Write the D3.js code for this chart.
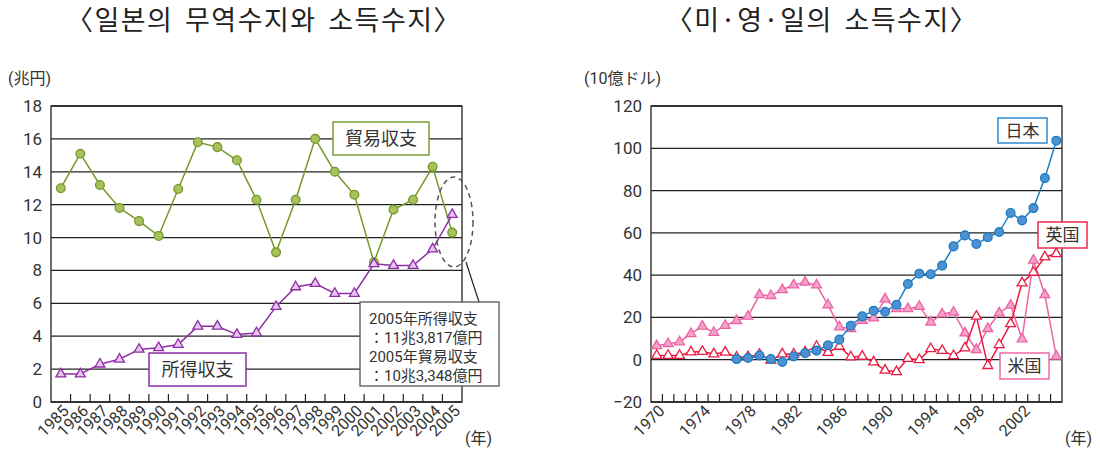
<!DOCTYPE html>
<html>
<head>
<meta charset="utf-8">
<script src="https://cdn.jsdelivr.net/npm/d3@7"></script>
<style>
  body { margin: 0; background: #fff; }
  svg { display: block; }
  text { font-family: Roboto, "Noto Sans CJK JP", sans-serif; fill: #333; }
</style>
</head>
<body>
<svg id="chart" width="1100" height="451"></svg>
<script>
// left chart: Japan trade balance and income balance (trillion yen)
const yearsJp = [1985, 1986, 1987, 1988, 1989, 1990, 1991, 1992, 1993, 1994, 1995,
                 1996, 1997, 1998, 1999, 2000, 2001, 2002, 2003, 2004, 2005];
const tradeBalance = [13.0, 15.1, 13.2, 11.8, 11.0, 10.1, 12.95, 15.8, 15.5, 14.7, 12.3,
                      9.1, 12.3, 16.0, 14.0, 12.6, 8.5, 11.7, 12.3, 14.3, 10.3];
const incomeBalance = [1.7, 1.7, 2.3, 2.6, 3.2, 3.3, 3.5, 4.6, 4.6, 4.1, 4.2,
                       5.8, 7.0, 7.2, 6.6, 6.6, 8.4, 8.3, 8.3, 9.3, 11.4];
const leftTicks = [0, 2, 4, 6, 8, 10, 12, 14, 16, 18];
const noteLines = ["2005年所得収支", "：11兆3,817億円", "2005年貿易収支", "：10兆3,348億円"];

// right chart: income balance of US, UK, Japan (billion dollars)
const yearsW = [1970, 1971, 1972, 1973, 1974, 1975, 1976, 1977, 1978, 1979,
                1980, 1981, 1982, 1983, 1984, 1985, 1986, 1987, 1988, 1989,
                1990, 1991, 1992, 1993, 1994, 1995, 1996, 1997, 1998, 1999,
                2000, 2001, 2002, 2003, 2004, 2005];
const usIncome = [6.6, 7.6, 8.4, 12.3, 15.8, 12.9, 16.2, 18.4, 20.5, 30.7,
                  30.3, 33.1, 35.3, 36.6, 35.3, 25.9, 15.5, 14.7, 18.6, 19.7,
                  28.7, 24.1, 24.1, 25.2, 17.7, 21.6, 22.5, 12.6, 4.7, 14.7,
                  22.1, 25.7, 9.8, 47.0, 30.7, 1.6];
const ukIncome = [2.0, 2.0, 2.0, 3.6, 3.9, 2.7, 3.5, 1.2, 1.4, 2.5,
                  -0.3, 2.7, 2.6, 3.6, 6.3, 3.4, 6.3, 1.3, 1.6, -1.1,
                  -5.0, -5.7, 0.6, 0.0, 5.2, 4.3, 1.9, 5.5, 20.5, -2.8,
                  7.1, 17.0, 36.3, 41.3, 48.6, 50.1];
const jpIncome = [null, null, null, null, null, null, null, 0.3, 0.8, 2.0,
                  0.3, -1.1, 1.6, 3.1, 4.3, 6.8, 9.5, 16.1, 20.5, 23.2,
                  22.7, 26.0, 35.8, 40.7, 40.4, 44.5, 53.6, 58.8, 54.7, 57.9,
                  60.4, 69.4, 65.9, 71.7, 85.9, 103.6];
const rightTicks = [-20, 0, 20, 40, 60, 80, 100, 120];
const rightYearLabels = [1970, 1974, 1978, 1982, 1986, 1990, 1994, 1998, 2002];

const svg = d3.select("#chart");

/**
 * draw frame, grid, ticks and labels for one panel
 */
function drawFrame(x, y, yTicks, yearLabels, title, titleX, unit, unitX) {
    const [x0, x1] = x.range();
    const [y0, y1] = y.range();
    const g = svg.append("g");

    // horizontal grid lines
    g.selectAll(".grid").data(yTicks).enter().append("line")
        .attr("x1", x0).attr("x2", x1)
        .attr("y1", d => y(d)).attr("y2", d => y(d))
        .attr("stroke", "#222").attr("stroke-width", 1.3);

    // frame
    g.append("rect").attr("x", x0).attr("y", y1)
        .attr("width", x1 - x0).attr("height", y0 - y1)
        .attr("fill", "none").attr("stroke", "#222").attr("stroke-width", 1.3);

    // inner ticks at band boundaries
    g.selectAll(".tk").data(x.domain().slice(1)).enter().append("line")
        .attr("x1", d => x(d)).attr("x2", d => x(d))
        .attr("y1", y0).attr("y2", y0 - 8)
        .attr("stroke", "#222").attr("stroke-width", 1.2);

    // y labels
    g.selectAll(".yl").data(yTicks).enter().append("text")
        .attr("x", x0 - 9).attr("y", d => y(d) + 6)
        .attr("text-anchor", "end").style("font-size", "17px")
        .text(d => d < 0 ? "\u2212" + Math.abs(d) : d);

    // x labels
    g.selectAll(".xl").data(yearLabels).enter().append("text")
        .attr("transform", d => `translate(${x(d) + x.bandwidth() / 2 + 9},${y0 + 10}) rotate(-45)`)
        .attr("text-anchor", "end").style("font-size", "16px")
        .text(d => d);

    g.append("text").attr("x", x1 + 3).attr("y", 444).style("font-size", "16px").text("(年)");
    g.append("text").attr("x", unitX).attr("y", 84).style("font-size", "16px").text(unit);

    svg.append("text").attr("x", titleX).attr("y", 30)
        .attr("text-anchor", "middle")
        .style("font-family", "'Noto Sans CJK KR', sans-serif")
        .style("font-size", "27px").style("fill", "#222")
        .style("letter-spacing", "1.5px")
        .style("word-spacing", "4px")
        .text(title);
}

/**
 * draw one series as a line with markers
 */
function drawSeries(x, y, years, values, color, marker, fill) {
    const cx = d => x(d.year) + x.bandwidth() / 2;
    const pts = years.map((year, i) => ({ year, v: values[i] }));
    const line = d3.line().defined(d => d.v != null).x(cx).y(d => y(d.v));
    svg.append("path").datum(pts).attr("d", line)
        .attr("fill", "none").attr("stroke", color).attr("stroke-width", 1.5);
    const sym = d3.symbol().type(marker === "circle" ? d3.symbolCircle : d3.symbolTriangle)
        .size(marker === "circle" ? 60 : 42);
    svg.selectAll(null).data(pts.filter(d => d.v != null)).enter().append("path")
        .attr("d", sym)
        .attr("transform", d => `translate(${cx(d)},${y(d.v)})`)
        .attr("fill", fill).attr("stroke", color).attr("stroke-width", 1.3);
}

/**
 * label box with colored border
 */
function labelBox(x, y, w, h, text, color, size) {
    svg.append("rect").attr("x", x).attr("y", y).attr("width", w).attr("height", h)
        .attr("fill", "#fff").attr("stroke", color).attr("stroke-width", 1.5);
    svg.append("text").attr("x", x + w / 2).attr("y", y + h / 2 + size * 0.36)
        .attr("text-anchor", "middle").style("font-size", size + "px")
        .style("font-family", "'Noto Sans CJK JP', sans-serif").style("fill", "#333")
        .text(text);
}

// ---- left panel ----
const xL = d3.scaleBand().domain(yearsJp).range([51, 462]);
const yL = d3.scaleLinear().domain([0, 18]).range([402, 106]);
drawFrame(xL, yL, leftTicks, yearsJp, "〈일본의 무역수지와 소득수지〉", 264, "(兆円)", 8);

drawSeries(xL, yL, yearsJp, tradeBalance, "#76992a", "circle", "#a7c25c");
drawSeries(xL, yL, yearsJp, incomeBalance, "#8e2ea6", "triangle", "#e6c6ef");

labelBox(333, 122, 96, 33, "貿易収支", "#7d9e35", 18);
labelBox(149, 353, 97, 33, "所得収支", "#8e2ea6", 18);

// dashed ellipse and pointer to note
svg.append("ellipse").attr("cx", 454).attr("cy", 222).attr("rx", 19).attr("ry", 45)
    .attr("fill", "none").attr("stroke", "#555").attr("stroke-width", 1.5)
    .attr("stroke-dasharray", "5,4");
svg.append("line").attr("x1", 466).attr("y1", 262).attr("x2", 479).attr("y2", 302)
    .attr("stroke", "#222").attr("stroke-width", 1.2);
svg.append("rect").attr("x", 360).attr("y", 302).attr("width", 139).attr("height", 84)
    .attr("fill", "#fff").attr("stroke", "#555").attr("stroke-width", 1.3);
const note = svg.append("text").style("font-size", "15px").style("fill", "#333");
note.selectAll("tspan").data(noteLines).enter().append("tspan")
    .attr("x", 369).attr("y", (d, i) => 324 + i * 19)
    .text(d => d);

// ---- right panel ----
const xR = d3.scaleBand().domain(yearsW).range([651, 1062]);
const yR = d3.scaleLinear().domain([-20, 120]).range([402, 106]);
drawFrame(xR, yR, rightTicks, rightYearLabels, "〈미·영·일의 소득수지〉", 822, "(10億ドル)", 584);

drawSeries(xR, yR, yearsW, usIncome, "#ec64a6", "triangle", "#f3a3c8");
drawSeries(xR, yR, yearsW, ukIncome, "#ea1b40", "triangle", "#ffffff");
drawSeries(xR, yR, yearsW, jpIncome, "#1b7cc4", "circle", "#4d91d1");

labelBox(998, 118, 49, 25, "日本", "#2c8bd0", 17);
labelBox(1038, 222, 49, 26, "英国", "#ea2a50", 17);
labelBox(1000, 353, 49, 26, "米国", "#ee6aa8", 17);
</script>
</body>
</html>
